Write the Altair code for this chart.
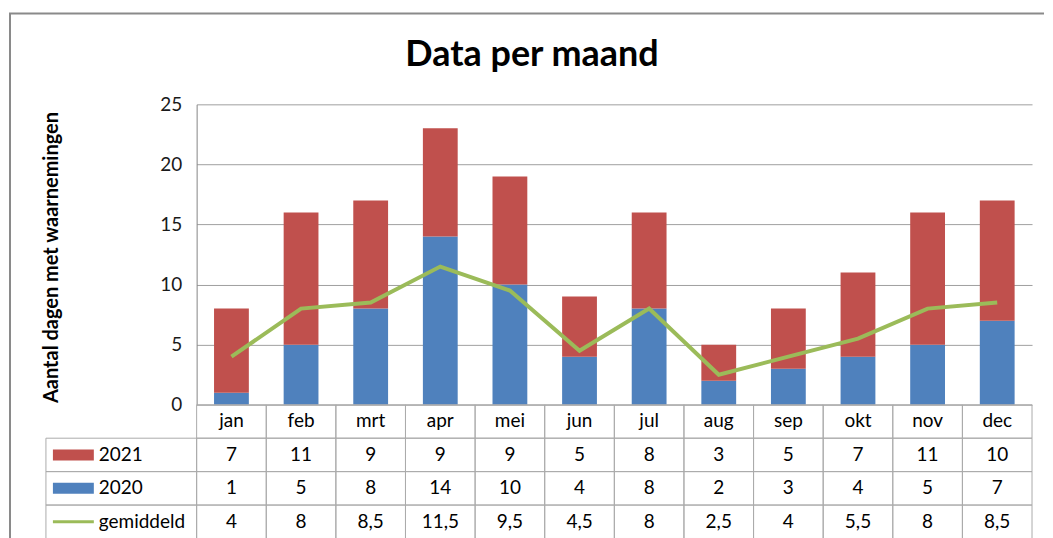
import altair as alt
import pandas as pd

# ---- data ----
months = ["jan", "feb", "mrt", "apr", "mei", "jun", "jul", "aug", "sep", "okt", "nov", "dec"]
v2021 = [7, 11, 9, 9, 9, 5, 8, 3, 5, 7, 11, 10]
v2020 = [1, 5, 8, 14, 10, 4, 8, 2, 3, 4, 5, 7]
gemiddeld = [4, 8, 8.5, 11.5, 9.5, 4.5, 8, 2.5, 4, 5.5, 8, 8.5]
gemiddeld_labels = ["4", "8", "8,5", "11,5", "9,5", "4,5", "8", "2,5", "4", "5,5", "8", "8,5"]
series = ["2021", "2020", "gemiddeld"]
colors = ["#C0504D", "#4F81BD", "#9BBB59"]
title_text = "Data per maand"
y_title = "Aantal dagen met waarnemingen"
y_ticks = [0, 5, 10, 15, 20, 25]
table_rows = ["kop", "2021", "2020", "gemiddeld"]

# ---- layout constants ----
W = 837
H = 301
ROW_H = 33.5
LEG_W = 151
FONT = "Lato"
FS = 19
GRID = "#A0A0A0"
TABLE_LINE = "#ABABAB"
FRAME = "#8A8A8A"

bars_df = pd.DataFrame({
    "maand": months * 2,
    "reeks": ["2020"] * 12 + ["2021"] * 12,
    "waarde": v2020 + v2021,
    "volgorde": [0] * 12 + [1] * 12,
})
line_df = pd.DataFrame({"maand": months, "waarde": gemiddeld})
one = pd.DataFrame({"k": [0]})

xscale = alt.Scale(type="band", domain=months, paddingInner=0, paddingOuter=0)
color_scale = alt.Scale(domain=series, range=colors)

bars = alt.Chart(bars_df).mark_bar(width=alt.RelativeBandSize(0.5)).encode(
    x=alt.X("maand:N", scale=xscale, axis=None, sort=months),
    y=alt.Y(
        "waarde:Q",
        stack="zero",
        scale=alt.Scale(domain=[0, 25], nice=False, zero=True),
        axis=alt.Axis(
            values=y_ticks,
            title=y_title,
            ticks=False,
            labelPadding=15,
            labelFontSize=FS,
            labelFont=FONT,
            labelColor="#1a1a1a",
            domainColor="#868686",
            gridColor=GRID,
            titleFont=FONT,
            titleFontSize=20,
            titleFontWeight="bold",
            titleColor="#000000",
            titleAngle=270,
            titleX=-139,
            titleY=153,
            titleAlign="center",
            titleBaseline="alphabetic",
        ),
    ),
    color=alt.Color("reeks:N", scale=color_scale, legend=None),
    order=alt.Order("volgorde:Q"),
)

line = alt.Chart(line_df).mark_line(color=colors[2], strokeWidth=4).encode(
    x=alt.X("maand:N", scale=xscale, axis=None, sort=months),
    y=alt.Y("waarde:Q"),
)

frame_left = alt.Chart(one).mark_rule(color=FRAME, strokeWidth=2).encode(
    x=alt.value(-187), y=alt.value(-91), y2=alt.value(440)
)
frame_top = alt.Chart(one).mark_rule(color=FRAME, strokeWidth=2).encode(
    x=alt.value(-188), x2=alt.value(849), y=alt.value(-91)
)
title = alt.Chart(one).mark_text(
    text=title_text, font=FONT, fontSize=36, fontWeight="bold",
    align="center", baseline="alphabetic", color="#000000"
).encode(x=alt.value(336), y=alt.value(-38))

top = alt.layer(frame_left, frame_top, title, bars, line).properties(width=W, height=H)

# ---- data table ----
cells = []
for i, m in enumerate(months):
    cells.append({"maand": m, "rij": "kop", "tekst": m})
    cells.append({"maand": m, "rij": "2021", "tekst": str(v2021[i])})
    cells.append({"maand": m, "rij": "2020", "tekst": str(v2020[i])})
    cells.append({"maand": m, "rij": "gemiddeld", "tekst": gemiddeld_labels[i]})
cells_df = pd.DataFrame(cells)
leg_df = pd.DataFrame({"rij": series, "reeks": series})

yscale = alt.Scale(type="band", domain=table_rows, paddingInner=0, paddingOuter=0)
tx = alt.X("maand:N", scale=xscale, axis=None, sort=months)
ty = alt.Y("rij:N", scale=yscale, axis=None)

cell_rect = alt.Chart(cells_df).mark_rect(
    fill="white", fillOpacity=0, stroke=TABLE_LINE, strokeWidth=1
).encode(x=tx, y=ty)
cell_text = alt.Chart(cells_df).mark_text(
    font=FONT, fontSize=FS, color="#000000", baseline="middle"
).encode(x=tx, y=ty, text="tekst:N")

leg_rect = alt.Chart(leg_df).mark_rect(
    fill="white", fillOpacity=0, stroke=TABLE_LINE, strokeWidth=1
).encode(x=alt.value(-LEG_W), x2=alt.value(0), y=ty)

rect_path = "M-1,-0.27H1V0.27H-1Z"
line_path = "M-1,-0.075H1V0.075H-1Z"
leg_key = alt.Chart(leg_df).mark_point(filled=True, opacity=1, size=1681).encode(
    x=alt.value(-123.5),
    y=ty,
    color=alt.Color("reeks:N", scale=color_scale, legend=None),
    shape=alt.Shape("reeks:N", scale=alt.Scale(domain=series, range=[rect_path, rect_path, line_path]), legend=None),
)
leg_text = alt.Chart(leg_df).mark_text(
    font=FONT, fontSize=FS, color="#000000", align="left", baseline="middle"
).encode(x=alt.value(-98), y=ty, text="rij:N")

table = alt.layer(cell_rect, leg_rect, leg_key, cell_text, leg_text).properties(
    width=W, height=ROW_H * 4
)

chart = alt.vconcat(top, table, spacing=0, bounds="flush").resolve_scale(
    x="independent", y="independent", shape="independent"
).configure_view(stroke=None).properties(
    padding={"left": 0, "top": 4, "right": 0, "bottom": 0},
    background="white",
)

chart.save("out.html", embed_options={"renderer": "svg", "actions": False})
